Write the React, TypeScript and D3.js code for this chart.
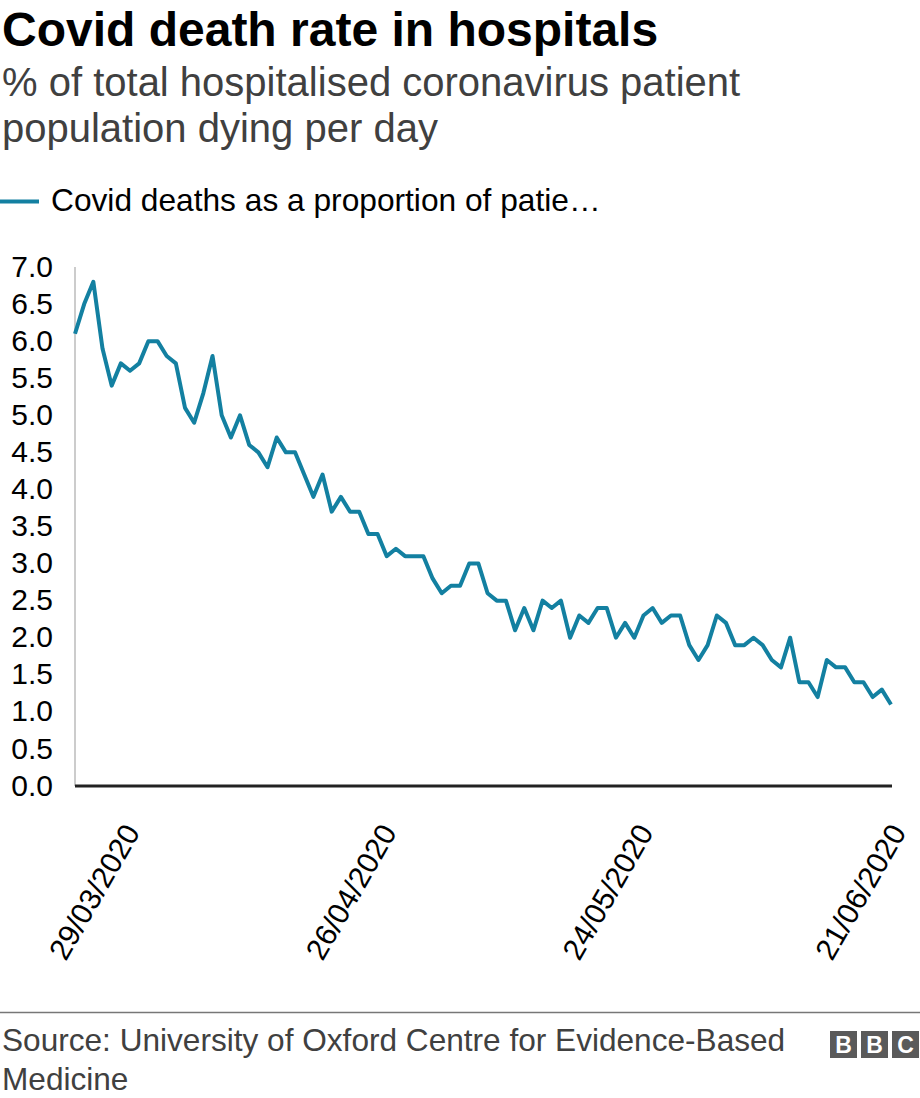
import * as d3 from 'd3';
import { useMemo } from 'react';

// daily values (first day 24/03/2020)
const startDay = '24/03/2020';
const deathRate = [
  6.1, 6.5, 6.8, 5.9, 5.4, 5.7, 5.6, 5.7, 6.0, 6.0,
  5.8, 5.7, 5.1, 4.9, 5.3, 5.8, 5.0, 4.7, 5.0, 4.6,
  4.5, 4.3, 4.7, 4.5, 4.5, 4.2, 3.9, 4.2, 3.7, 3.9,
  3.7, 3.7, 3.4, 3.4, 3.1, 3.2, 3.1, 3.1, 3.1, 2.8,
  2.6, 2.7, 2.7, 3.0, 3.0, 2.6, 2.5, 2.5, 2.1, 2.4,
  2.1, 2.5, 2.4, 2.5, 2.0, 2.3, 2.2, 2.4, 2.4, 2.0,
  2.2, 2.0, 2.3, 2.4, 2.2, 2.3, 2.3, 1.9, 1.7, 1.9,
  2.3, 2.2, 1.9, 1.9, 2.0, 1.9, 1.7, 1.6, 2.0, 1.4,
  1.4, 1.2, 1.7, 1.6, 1.6, 1.4, 1.4, 1.2, 1.3, 1.1,
];
const xTickLabels = ['29/03/2020', '26/04/2020', '24/05/2020', '21/06/2020'];
const yTicks = [0, 0.5, 1, 1.5, 2, 2.5, 3, 3.5, 4, 4.5, 5, 5.5, 6, 6.5, 7];

const title = 'Covid death rate in hospitals';
const subtitle = ['% of total hospitalised coronavirus patient', 'population dying per day'];
const legendLabel = 'Covid deaths as a proportion of patie\u2026';
const source = ['Source: University of Oxford Centre for Evidence-Based', 'Medicine'];

const width = 920;
const height = 1098;
const font = '"Liberation Sans", Arial, Helvetica, sans-serif';
const lineColor = '#1380a1';

const parse = d3.timeParse('%d/%m/%Y');

export default function App() {
  const start = parse(startDay) as Date;
  const data = useMemo(
    () => deathRate.map((v, i) => ({ date: d3.timeDay.offset(start, i), value: v })),
    []
  );

  const xScale = d3
    .scaleTime()
    .domain(d3.extent(data, (d) => d.date) as [Date, Date])
    .range([75, 891]);

  const yScale = d3.scaleLinear().domain([0, 7]).range([786, 267]);

  const path = d3
    .line<{ date: Date; value: number }>()
    .x((d) => xScale(d.date))
    .y((d) => yScale(d.value))(data);

  return (
    <svg
      width={width}
      height={height}
      style={{ position: 'absolute', left: 0, top: 0, display: 'block', background: '#fff' }}
      fontFamily={font}
    >
      <text x={2} y={46} fontSize={48} fontWeight='bold' fill='#000'>
        {title}
      </text>
      {subtitle.map((s, i) => (
        <text key={s} x={2} y={96 + i * 46} fontSize={40} fill='#404040'>
          {s}
        </text>
      ))}

      {/* legend */}
      <line x1={0} x2={39} y1={201.5} y2={201.5} stroke={lineColor} strokeWidth={4} />
      <text x={51} y={211} fontSize={31.7} fill='#000'>
        {legendLabel}
      </text>

      {/* y axis */}
      <line x1={75} x2={75} y1={yScale(7)} y2={yScale(0)} stroke='#cccccc' strokeWidth={2} />
      {yTicks.map((t) => (
        <text key={t} x={53} y={yScale(t)} dy='0.32em' textAnchor='end' fontSize={30} fill='#000'>
          {d3.format('.1f')(t)}
        </text>
      ))}

      {/* x axis labels */}
      {xTickLabels.map((l) => {
        const px = Math.min(xScale(parse(l) as Date) + 20, 907);
        return (
          <text
            key={l}
            transform={`translate(${px},832) rotate(-60)`}
            textAnchor='end'
            fontSize={30}
            fill='#000'
          >
            {l}
          </text>
        );
      })}

      <path
        d={path ?? undefined}
        fill='none'
        stroke={lineColor}
        strokeWidth={4}
        strokeLinejoin='round'
      />

      {/* zero line */}
      <line x1={75} x2={892} y1={yScale(0)} y2={yScale(0)} stroke='#222' strokeWidth={3} />

      {/* footer */}
      <line x1={0} x2={width} y1={1012.5} y2={1012.5} stroke='#777' strokeWidth={1.5} />
      {source.map((s, i) => (
        <text key={s} x={2} y={1051 + i * 39} fontSize={31.6} fill='#404040'>
          {s}
        </text>
      ))}
      {['B', 'B', 'C'].map((c, i) => (
        <g key={i} transform={`translate(${830 + i * 31},1031)`}>
          <rect width={27} height={27} fill='#5a5a5a' />
          <text x={13.5} y={22} textAnchor='middle' fontSize={23} fontWeight='bold' fill='#fff'>
            {c}
          </text>
        </g>
      ))}
    </svg>
  );
}
